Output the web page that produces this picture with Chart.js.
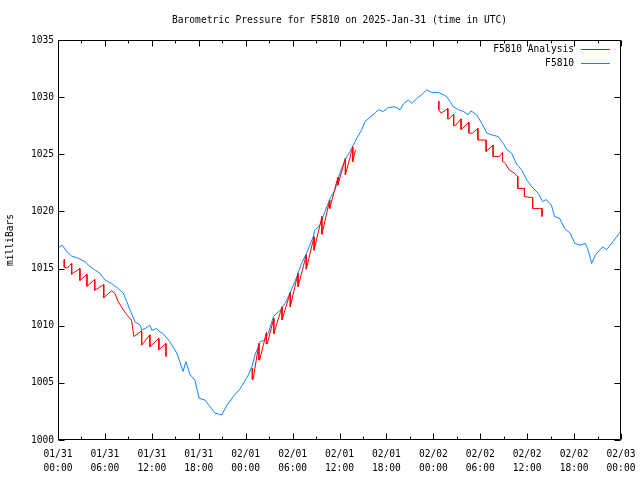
<!DOCTYPE html>
<html>
<head>
<meta charset="utf-8">
<script src="https://cdn.jsdelivr.net/npm/chart.js@4/dist/chart.umd.min.js"></script>
<style>
  html, body { margin: 0; padding: 0; background: #ffffff; }
  #wrap { width: 640px; height: 480px; position: relative; }
</style>
</head>
<body>
<div id="wrap"><canvas id="c" width="640" height="480"></canvas></div>
<script>
// ---------- data (hours since 2025-01-31 00:00 UTC) ----------
const chartTitle = 'Barometric Pressure for F5810 on 2025-Jan-31 (time in UTC)';
const yAxisTitle = 'milliBars';
const seriesNames = ['F5810 Analysis', 'F5810'];
const seriesColors = ['#ff0000', '#1284ff'];

const xTickHours = [0, 6, 12, 18, 24, 30, 36, 42, 48, 54, 60, 66, 72];
const xTickLabels = [
  ['01/31', '00:00'], ['01/31', '06:00'], ['01/31', '12:00'], ['01/31', '18:00'],
  ['02/01', '00:00'], ['02/01', '06:00'], ['02/01', '12:00'], ['02/01', '18:00'],
  ['02/02', '00:00'], ['02/02', '06:00'], ['02/02', '12:00'], ['02/02', '18:00'],
  ['02/03', '00:00']
];
const xMinorTickHours = [3, 9, 15, 21, 27, 33, 39, 45, 51, 57, 63, 69];
const yTickValues = [1000, 1005, 1010, 1015, 1020, 1025, 1030, 1035];

const stationHours = [0, 0.55, 1.1, 1.75, 2.6, 3.45, 3.9, 4.75, 5.35, 6.0, 6.85, 7.7, 8.35, 8.8, 9.2, 9.85, 10.5, 10.7, 11.15, 11.75, 12.0, 12.6, 13.05, 13.45, 14.3, 15.2, 16.0, 16.35, 16.9, 17.5, 18.05, 18.8, 19.45, 20.1, 20.7, 20.95, 21.6, 22.4, 23.3, 24.35, 24.8, 25.2, 25.85, 26.45, 26.9, 27.55, 28.4, 29.05, 29.65, 30.3, 31.15, 31.8, 32.65, 32.85, 33.5, 34.15, 34.8, 35.45, 36.05, 36.7, 37.35, 38.2, 38.85, 39.25, 39.9, 40.55, 40.95, 41.6, 42.25, 43.1, 43.75, 44.15, 44.8, 45.25, 45.9, 46.5, 47.15, 47.8, 48.65, 49.3, 49.7, 50.15, 50.55, 51.2, 51.85, 52.45, 52.8, 53.55, 54.2, 54.85, 55.45, 56.3, 56.95, 57.4, 58.0, 58.65, 59.3, 59.95, 60.6, 61.4, 62.0, 62.4, 63.1, 63.5, 64.15, 64.8, 65.5, 66.1, 66.8, 67.45, 67.85, 68.25, 68.75, 69.65, 70.15, 70.95, 71.8, 72];
const stationValues = [1016.8, 1017.05, 1016.5, 1016.1, 1015.9, 1015.6, 1015.3, 1014.85, 1014.6, 1014.0, 1013.7, 1013.25, 1012.85, 1012.1, 1011.4, 1010.35, 1010.05, 1009.65, 1009.75, 1010.05, 1009.6, 1009.75, 1009.45, 1009.3, 1008.6, 1007.6, 1006.0, 1006.85, 1005.7, 1005.25, 1003.65, 1003.5, 1002.9, 1002.35, 1002.25, 1002.2, 1003.05, 1003.8, 1004.5, 1005.7, 1006.4, 1007.45, 1008.6, 1008.75, 1009.35, 1010.8, 1011.35, 1011.95, 1012.85, 1013.85, 1015.45, 1016.35, 1017.8, 1018.35, 1018.8, 1020.0, 1021.15, 1021.9, 1023.35, 1024.5, 1025.25, 1026.4, 1027.15, 1027.85, 1028.25, 1028.6, 1028.9, 1028.75, 1029.1, 1029.15, 1028.9, 1029.4, 1029.75, 1029.45, 1029.9, 1030.2, 1030.65, 1030.4, 1030.4, 1030.2, 1030.05, 1029.6, 1029.15, 1028.9, 1028.75, 1028.45, 1028.8, 1028.45, 1027.7, 1026.85, 1026.7, 1026.55, 1025.95, 1025.4, 1025.1, 1024.15, 1023.65, 1022.75, 1022.15, 1021.6, 1020.85, 1021.05, 1020.55, 1019.55, 1019.4, 1018.5, 1018.1, 1017.2, 1017.05, 1017.2, 1016.5, 1015.45, 1016.2, 1016.9, 1016.65, 1017.35, 1018.1, 1018.4];

const analysisHours = [0.8, 0.8, 1.2, 1.75, 1.75, 1.9, 2.8, 2.8, 3.7, 3.7, 4.7, 4.7, 5.85, 5.85, 6.85, 7.3, 7.7, 8.35, 8.8, 9.4, 9.7, 10.7, 10.7, 11.75, 11.75, 12.9, 12.9, 13.8, 13.8,
  19,
  24.85, 24.85, 24.95, 25.7, 25.7, 25.8, 26.65, 26.65, 26.75, 27.6, 27.6, 28.65, 28.65, 29.7, 29.7, 30.7, 30.7, 31.75, 31.75, 32.75, 32.75, 33.75, 33.75, 34.75, 34.75, 35.8, 35.8, 36.75, 36.75, 37.7, 37.7, 38.05,
  43,
  48.7, 48.7, 49.0, 49.85, 49.85, 50.0, 50.6, 50.6, 50.8, 51.55, 51.55, 52.55, 52.55, 53.0, 53.7, 53.7, 54.75, 54.75, 55.65, 55.65, 56.45, 56.85, 56.85, 57.2, 57.7, 58.35, 58.8, 58.8, 59.65, 59.65, 60.7, 60.7, 61.55, 61.9, 61.9];
const analysisValues = [1015.8, 1015.1, 1015.05, 1015.45, 1014.5, 1014.6, 1015.0, 1013.95, 1014.5, 1013.45, 1014.05, 1013.1, 1013.6, 1012.45, 1013.05, 1012.8, 1012.1, 1011.4, 1010.95, 1010.5, 1009.05, 1009.55, 1008.3, 1009.2, 1008.15, 1008.9, 1007.9, 1008.45, 1007.3,
  null,
  1006.3, 1005.3, 1005.3, 1008.45, 1007.0, 1007.0, 1009.4, 1008.4, 1008.4, 1010.65, 1009.3, 1011.65, 1010.5, 1012.9, 1011.65, 1014.6, 1013.4, 1016.2, 1014.95, 1017.8, 1016.6, 1019.55, 1018.0, 1021.0, 1020.25, 1023.0, 1022.3, 1024.65, 1023.2, 1025.65, 1024.35, 1025.4,
  null,
  1029.65, 1028.9, 1028.6, 1029.0, 1028.1, 1028.1, 1028.5, 1027.5, 1027.5, 1028.1, 1027.15, 1027.8, 1026.85, 1026.85, 1027.25, 1026.25, 1026.25, 1025.25, 1025.8, 1024.8, 1024.8, 1025.15, 1024.4, 1024.2, 1023.65, 1023.35, 1023.05, 1022.0, 1022.0, 1021.3, 1021.2, 1020.25, 1020.25, 1020.25, 1019.55];

// ---------- build ----------
const FONT = '"DejaVu Sans Mono", "Liberation Mono", monospace';
const FS = 9.6;

function pairs(xs, ys) { return xs.map((x, i) => ({ x: x, y: ys[i] })); }

const framePlugin = {
  id: 'gnuplotFrame',
  afterDatasetsDraw(chart) {
    const { ctx, chartArea: a, scales } = chart;
    const xs = scales.x, ys = scales.y;
    const L = Math.round(a.left) + 0.5, R = Math.round(a.right) - 0.5;
    const T = Math.round(a.top) + 0.5, B = Math.round(a.bottom) - 0.5;
    ctx.save();
    ctx.strokeStyle = '#000000';
    ctx.lineWidth = 1;
    ctx.beginPath();
    ctx.rect(L, T, R - L, B - T);
    const xt = (h, len) => {
      const px = Math.round(xs.getPixelForValue(h)) + 0.5;
      ctx.moveTo(px, B); ctx.lineTo(px, B - len);
      ctx.moveTo(px, T); ctx.lineTo(px, T + len);
    };
    xTickHours.forEach(h => xt(h, 6));
    xMinorTickHours.forEach(h => xt(h, 3));
    yTickValues.forEach(v => {
      const py = Math.round(ys.getPixelForValue(v)) + 0.5;
      ctx.moveTo(L, py); ctx.lineTo(L + 6, py);
      ctx.moveTo(R, py); ctx.lineTo(R - 6, py);
    });
    ctx.stroke();
    ctx.restore();

    // legend (top-right, inside plot)
    seriesNames.forEach((name, i) => {
      const yy = Math.round(a.top) + 9 + i * 14;
      ctx.save();
      ctx.font = FS + 'px ' + FONT;
      ctx.fillStyle = '#000000';
      ctx.textAlign = 'right';
      ctx.textBaseline = 'middle';
      ctx.fillText(name, Math.round(a.right) - 47, yy);
      ctx.fillStyle = seriesColors[i];
      ctx.fillRect(Math.round(a.right) - 40, yy, 29, 1);
      ctx.restore();
    });
  }
};

new Chart(document.getElementById('c'), {
  type: 'line',
  data: {
    datasets: [
      {
        label: seriesNames[0],
        data: pairs(analysisHours, analysisValues),
        borderColor: seriesColors[0],
        backgroundColor: seriesColors[0],
        borderWidth: 1,
        pointRadius: 0,
        tension: 0,
        spanGaps: false
      },
      {
        label: seriesNames[1],
        data: pairs(stationHours, stationValues),
        borderColor: seriesColors[1],
        backgroundColor: seriesColors[1],
        borderWidth: 1,
        pointRadius: 0,
        tension: 0
      }
    ]
  },
  options: {
    responsive: false,
    animation: false,
    events: [],
    layout: { padding: { left: 0, right: 19, top: 0, bottom: 0 } },
    plugins: {
      legend: { display: false },
      tooltip: { enabled: false },
      title: {
        display: true,
        text: chartTitle,
        fullSize: false,
        color: '#000',
        font: { family: FONT, size: FS, weight: 'normal', lineHeight: 1.2 },
        padding: { top: 15, bottom: 13.48 }
      }
    },
    scales: {
      x: {
        type: 'linear',
        min: 0,
        max: 72,
        grid: { display: false, drawTicks: false },
        border: { display: false },
        afterFit(s) { s.height = 40; s.paddingLeft = 0; s.paddingRight = 0; },
        afterBuildTicks(s) { s.ticks = xTickHours.map(v => ({ value: v })); },
        ticks: {
          color: '#000',
          padding: 8,
          maxRotation: 0,
          autoSkip: false,
          font: { family: FONT, size: FS, lineHeight: 1.45 },
          callback(v) { const i = xTickHours.indexOf(v); return i >= 0 ? xTickLabels[i] : ''; }
        }
      },
      y: {
        type: 'linear',
        min: 1000,
        max: 1035,
        grid: { display: false, drawTicks: false },
        border: { display: false },
        afterFit(s) { s.width = 58; s.paddingTop = 0; s.paddingBottom = 0; },
        afterBuildTicks(s) { s.ticks = yTickValues.map(v => ({ value: v })); },
        ticks: {
          color: '#000',
          padding: 4,
          font: { family: FONT, size: FS },
          callback(v) { return String(v); }
        },
        title: {
          display: true,
          text: yAxisTitle,
          color: '#000',
          font: { family: FONT, size: FS, lineHeight: 1.2 },
          padding: { top: 5, bottom: 0 }
        }
      }
    }
  },
  plugins: [framePlugin]
});
</script>
</body>
</html>
